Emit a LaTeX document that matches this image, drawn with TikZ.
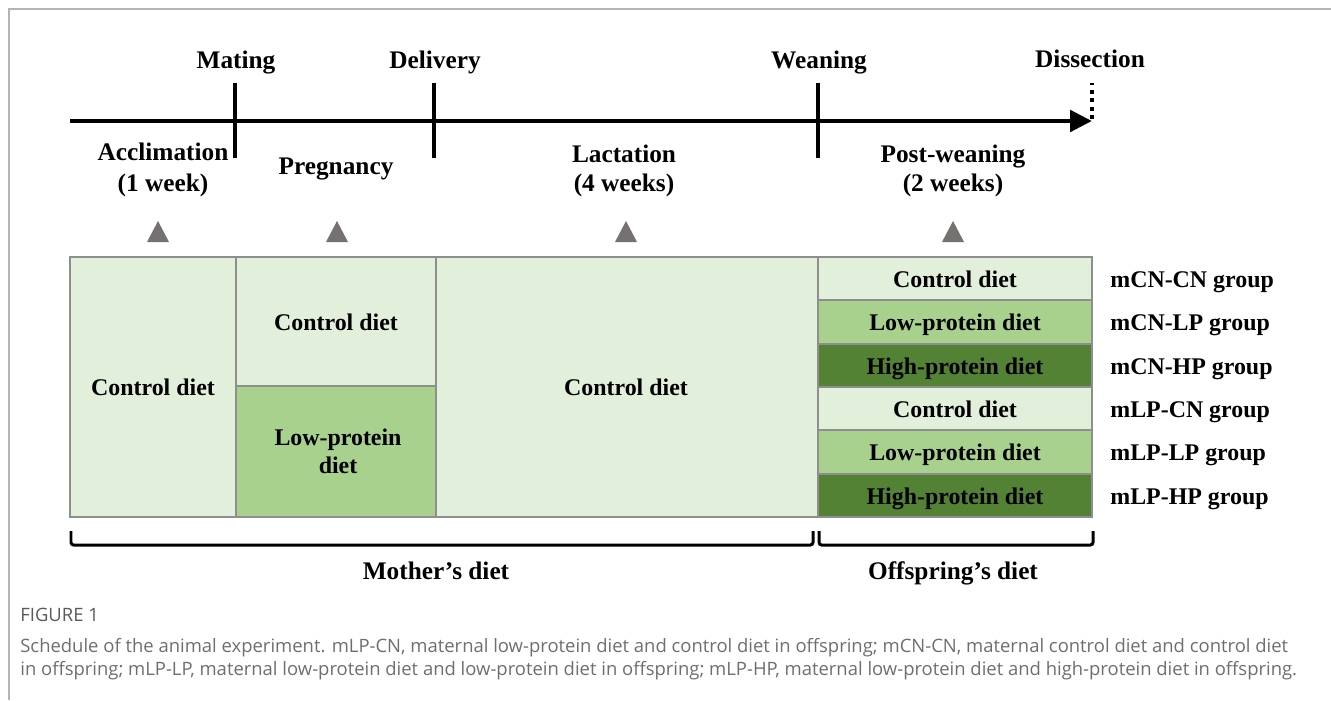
\documentclass[tikz,border=0pt]{standalone}
\usepackage{fontspec}
\setmainfont{Liberation Serif}
\newfontfamily\capfont{Open Sans}
\usetikzlibrary{positioning, arrows.meta, calc}
\definecolor{dietLight}{HTML}{E2EFDA}
\definecolor{dietMid}{HTML}{A9D18E}
\definecolor{dietDark}{HTML}{548235}
\definecolor{edgeGray}{HTML}{8E8E8E}
\definecolor{markGray}{HTML}{767171}
\definecolor{capGray}{HTML}{6E6E6E}
\definecolor{figGray}{HTML}{5A5A5A}
\definecolor{frameGray}{HTML}{B4B4B4}
\tikzset{
    lbl/.style={font=\bfseries\fontsize{13.6}{16}\selectfont, text height=9pt, text depth=0pt, inner sep=0pt},
    biglbl/.style={lbl, font=\bfseries\fontsize{14.4}{17}\selectfont},
    dietcell/.style={draw=edgeGray, line width=1.1pt},
    timetick/.style={line width=2.3pt},
    bracebar/.style={line width=1.7pt, rounded corners=1.5pt},
    captxt/.style={font=\capfont\fontsize{10.5}{12}\selectfont, text=capGray, inner sep=0pt, anchor=base west}
}

\begin{document}
\begin{tikzpicture}[x=0.02cm, y=-0.02cm]
        \useasboundingbox (0,0) rectangle (1331,700);
        % frame
        \draw[frameGray, line width=1.2pt] (9,700) -- (9,9) -- (1331,9);

        % timeline
        \coordinate (T0) at (70,121);
        \coordinate (T1) at (1092,121);
        \draw[line width=2.8pt, -{Triangle[length=12.5pt, width=12pt]}] (T0) -- (T1);
        \foreach \x/\nm/\lab in {235/mat/Mating, 434/del/Delivery, 818/wea/Weaning} {
            \draw[timetick] (\x,83) -- (\x,158);
            \node[biglbl] (\nm) at (\x+1,61) {\lab};
        }
        \draw[line width=2.3pt, dash pattern=on 2.3pt off 2.5pt] (1092,119) -- (1092,83);
        \node[biglbl] (dis) at (1090,60) {Dissection};

        % periods
        \node[biglbl] (acc) at (163,153) {Acclimation};
        \node[biglbl] (accw) at (163,184) {(1 week)};
        \node[biglbl] (preg) at (336,167) {Pregnancy};
        \node[biglbl] (lac) at (624,155) {Lactation};
        \node[biglbl] (lacw) at (624,184) {(4 weeks)};
        \node[biglbl] (post) at (953,155) {Post-weaning};
        \node[biglbl] (postw) at (953,184) {(2 weeks)};
        \foreach \x in {158,337,626,953}
            \fill[markGray] (\x-11,242) -- (\x+11,242) -- (\x,221) -- cycle;

        % mother's diet
        \filldraw[dietcell, fill=dietLight] (70,257) rectangle (236,517);
        \filldraw[dietcell, fill=dietLight] (236,257) rectangle (436,386);
        \filldraw[dietcell, fill=dietMid] (236,386) rectangle (436,517);
        \filldraw[dietcell, fill=dietLight] (436,257) rectangle (818,517);
        \node[lbl] (cd1) at (153,388) {Control diet};
        \node[lbl] (cd2) at (336,323) {Control diet};
        \node[lbl] (lp2) at (338,438) {Low-protein};
        \node[lbl] (lp2b) at (338,466) {diet};
        \node[lbl] (cd3) at (626,388) {Control diet};

        % offspring's diet and groups
        \foreach \i/\c/\d/\g in {0/dietLight/Control diet/mCN-CN, 1/dietMid/Low-protein diet/mCN-LP,
                2/dietDark/High-protein diet/mCN-HP, 3/dietLight/Control diet/mLP-CN,
                4/dietMid/Low-protein diet/mLP-LP, 5/dietDark/High-protein diet/mLP-HP} {
            \pgfmathsetmacro\ytop{257+43.33*\i}
            \filldraw[dietcell, fill=\c] (818,\ytop) rectangle (1092,\ytop+43.33);
            \node[lbl] (off\i) at (955,\ytop+22.5) {\d};
            \node[lbl, anchor=west] (grp\i) at (1110,\ytop+22.5) {\g\ group};
        }

        % brackets
        \draw[bracebar] (71,531) -- (71,545) -- (813,545) -- (813,531);
        \draw[bracebar] (819,531) -- (819,545) -- (1093,545) -- (1093,531);
        \node[biglbl] (mom) at (436,572) {Mother’s diet};
        \node[biglbl] (kid) at (953,572) {Offspring’s diet};

        % caption
        \node[captxt, text=figGray] (fig) at (20,621) {FIGURE 1};
        \node[captxt] (cap1) at (20,652) {Schedule of the animal experiment. mLP-CN, maternal low-protein diet and control diet in offspring; mCN-CN, maternal control diet and control diet};
        \node[captxt] (cap2) at (20,675) {in offspring; mLP-LP, maternal low-protein diet and low-protein diet in offspring; mLP-HP, maternal low-protein diet and high-protein diet in offspring.};
\end{tikzpicture}
\end{document}
